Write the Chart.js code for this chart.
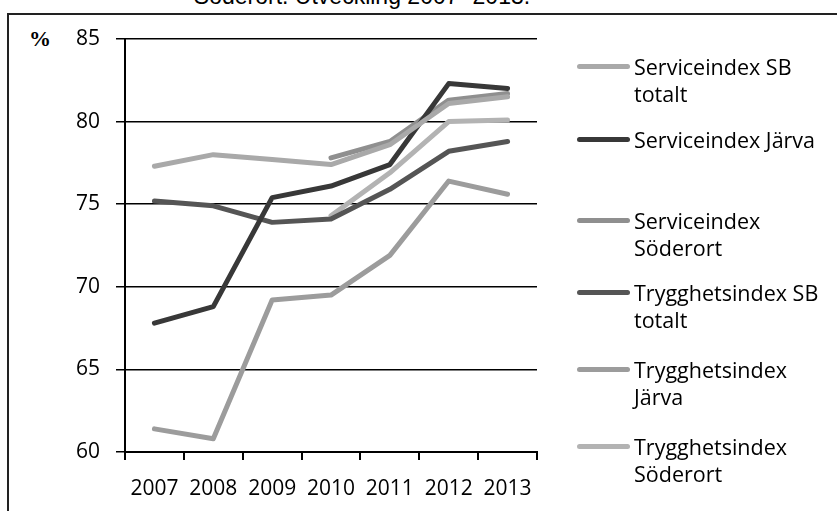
<!DOCTYPE html>
<html lang="sv">
<head>
<meta charset="UTF-8">
<title>Söderort. Utveckling 2007-2013</title>
<script src="https://cdn.jsdelivr.net/npm/chart.js"></script>
<style>
    html, body { margin: 0; padding: 0; background: #fff; }
    body { width: 837px; height: 511px; position: relative; overflow: hidden; font-family: "Open Sans", sans-serif; }
    .title { position: absolute; left: 0; width: 724px; top: -15px; text-align: center; font: 23px "Liberation Sans", Arial, sans-serif; line-height: 22px; }
    .frame { position: absolute; left: 7px; top: 13px; right: -5px; bottom: -5px; border-left: 2px solid #222; border-top: 2px solid #222; }
    .unit { position: absolute; left: 29px; top: 26px; font: bold 22px "Liberation Serif", serif; }
    #chart { position: absolute; left: 0; top: 0; }
    .leg { position: absolute; left: 634px; font-size: 21.5px; line-height: 27px; white-space: pre; color: #000; }
    .leg .sample { position: absolute; left: -57px; top: 11px; width: 53px; height: 5px; border-radius: 3px; }
</style>
</head>
<body>
    <div class="title">Söderort. Utveckling 2007- 2013.</div>
    <div class="frame"></div>
    <div class="unit">%</div>
    <canvas id="chart" width="837" height="511"></canvas>
    <div id="legend"></div>

<script>
    // values
    const years = ["2007", "2008", "2009", "2010", "2011", "2012", "2013"];
    const serviceSB = [77.3, 78.0, 77.7, 77.4, 78.6, 81.1, 81.5];
    const serviceJarva = [67.8, 68.8, 75.4, 76.1, 77.4, 82.3, 82.0];
    const serviceSoderort = [null, null, null, 77.8, 78.8, 81.3, 81.7];
    const trygghetSB = [75.2, 74.9, 73.9, 74.1, 75.9, 78.2, 78.8];
    const trygghetJarva = [61.4, 60.8, 69.2, 69.5, 71.9, 76.4, 75.6];
    const trygghetSoderort = [null, null, null, 74.3, 76.9, 80.0, 80.1];
    const yTicks = [60, 65, 70, 75, 80, 85];

    const names = ["Serviceindex SB totalt", "Serviceindex Järva", "Serviceindex Söderort",
        "Trygghetsindex SB totalt", "Trygghetsindex Järva", "Trygghetsindex Söderort"];
    const legendText = ["Serviceindex SB\ntotalt", "Serviceindex Järva", "Serviceindex\nSöderort",
        "Trygghetsindex SB\ntotalt", "Trygghetsindex\nJärva", "Trygghetsindex\nSöderort"];
    const legendY = [66, 139, 220, 292, 369, 446]; // centre of first text line
    const colors = ["#a9a9a9", "#383838", "#8f8f8f", "#555555", "#9c9c9c", "#b3b3b3"];
    const series = [serviceSB, serviceJarva, serviceSoderort, trygghetSB, trygghetJarva, trygghetSoderort];

    const font = { family: "Open Sans", size: 21 };

    new Chart(document.getElementById("chart"), {
        type: "line",
        data: {
            labels: years,
            datasets: series.map((d, i) => ({
                label: names[i],
                data: d,
                borderColor: colors[i],
                borderWidth: 5,
                pointRadius: 0,
                tension: 0,
                borderJoinStyle: "round",
                borderCapStyle: "round"
            }))
        },
        options: {
            responsive: false,
            animation: false,
            layout: { padding: { left: 0, right: 300, top: 39, bottom: 0 } },
            plugins: { legend: { display: false }, tooltip: { enabled: false } },
            scales: {
                x: {
                    offset: true,
                    grid: { offset: true, drawOnChartArea: false, tickLength: 8, color: "#000", lineWidth: 2 },
                    border: { color: "#000", width: 2 },
                    ticks: { color: "#000", font: font, padding: 16, maxRotation: 0, autoSkip: false },
                    afterFit(s) { s.height = 59; }
                },
                y: {
                    min: 60,
                    max: 85,
                    afterBuildTicks(s) { s.ticks = yTicks.map(v => ({ value: v })); },
                    grid: { color: "#000", lineWidth: 1.5, tickLength: 9 },
                    border: { color: "#000", width: 2 },
                    ticks: { color: "#000", font: font, padding: 16 },
                    afterFit(s) { s.width = 125; }
                }
            }
        }
    });

    // legend (Excel style, wrapped labels)
    const legend = document.getElementById("legend");
    legendText.forEach((t, i) => {
        const el = document.createElement("div");
        el.className = "leg";
        el.style.top = (legendY[i] - 13.5) + "px";
        el.textContent = t;
        const s = document.createElement("span");
        s.className = "sample";
        s.style.background = colors[i];
        el.appendChild(s);
        legend.appendChild(el);
    });
</script>
</body>
</html>
